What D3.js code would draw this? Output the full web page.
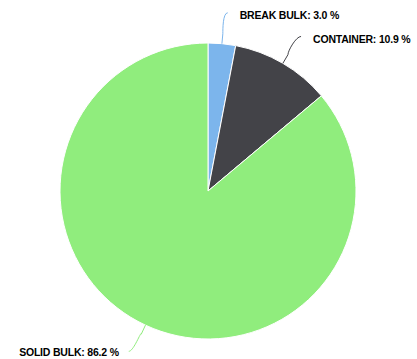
<!DOCTYPE html>
<html lang="en">
<head>
    <meta charset="UTF-8">
    <title>Cargo share</title>
    <style>
        body { margin: 0; background: #fff; }
        .label text {
            font-family: "Liberation Sans", Arial, sans-serif;
            font-size: 10.5px;
            font-weight: bold;
            letter-spacing: -0.2px;
            fill: #000;
        }
    </style>
</head>
<body>
    <div id="chart"></div>
    <script src="https://d3js.org/d3.v7.min.js"></script>
    <script>
        // chart data
        const categories = ["BREAK BULK", "CONTAINER", "SOLID BULK"];
        const shares = [3.0, 10.9, 86.2];
        const colors = ["#7cb5ec", "#434348", "#90ed7d"];

        const width = 417;
        const height = 359;
        const cx = 208, cy = 191;
        const radius = 148;

        const svg = d3.select("#chart").append("svg")
            .attr("width", width)
            .attr("height", height);

        const g = svg.append("g")
            .attr("transform", `translate(${cx},${cy})`);

        const data = categories.map((c, i) => ({ name: c, value: shares[i], color: colors[i] }));

        const pie = d3.pie()
            .value(d => d.value)
            .sort(null);

        const arcs = pie(data);

        const arc = d3.arc().innerRadius(0).outerRadius(radius);
        const edgeArc = d3.arc().innerRadius(radius).outerRadius(radius);
        const bendArc = d3.arc().innerRadius(radius + 10).outerRadius(radius + 10);
        const labelArc = d3.arc().innerRadius(radius + 30).outerRadius(radius + 30);

        g.selectAll("path.slice")
            .data(arcs)
            .enter().append("path")
            .attr("class", "slice")
            .attr("d", arc)
            .attr("fill", d => d.data.color)
            .attr("stroke", "#fff")
            .attr("stroke-width", 1);

        // connectors + labels
        const label = g.append("g").attr("class", "label")
            .selectAll("g")
            .data(arcs)
            .enter().append("g");

        label.each(function(d) {
            const mid = (d.startAngle + d.endAngle) / 2;
            const right = Math.sin(mid) >= 0;
            const p = edgeArc.centroid(d);
            const b = bendArc.centroid(d);
            const l = labelArc.centroid(d);
            const lx = l[0] + (right ? 3 : -4);
            const ly = l[1] - 1;
            const path = d3.path();
            path.moveTo(lx, ly);
            path.bezierCurveTo(lx + (right ? -5 : 5), ly, b[0], b[1] - 4, b[0], b[1]);
            path.lineTo(p[0], p[1]);

            d3.select(this).append("path")
                .attr("d", path.toString())
                .attr("fill", "none")
                .attr("stroke", d.data.color)
                .attr("stroke-width", 1);

            d3.select(this).append("text")
                .attr("x", lx + (right ? 12 : -10))
                .attr("y", ly + (right ? 6.5 : 5))
                .attr("text-anchor", right ? "start" : "end")
                .text(`${d.data.name}: ${d.data.value.toFixed(1)} %`);
        });
    </script>
</body>
</html>
